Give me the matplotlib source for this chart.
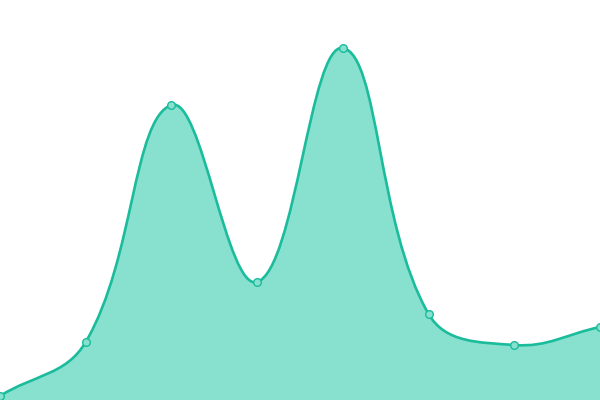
import numpy as np
import matplotlib
matplotlib.use('Agg')
import matplotlib.pyplot as plt
from matplotlib.path import Path
from matplotlib.patches import PathPatch

# datos
categorias = ['A', 'B', 'C', 'D', 'E', 'F', 'G', 'H']
valores = [4, 58, 295, 118, 352, 86, 55, 73]

COLOR_LINEA = '#1abc9c'
COLOR_RELLENO = '#88e0cf'
TENSION = 0.4


def puntos_control(pts, t):
    # curva tipo spline con tensión (estilo Chart.js)
    n = len(pts)
    cps = []
    for i in range(n):
        prev = pts[max(i - 1, 0)]
        cur = pts[i]
        nxt = pts[min(i + 1, n - 1)]
        d01 = np.hypot(*(cur - prev))
        d12 = np.hypot(*(nxt - cur))
        tot = d01 + d12
        s01 = d01 / tot if tot else 0
        s12 = d12 / tot if tot else 0
        fa = t * s01
        fb = t * s12
        cps.append((cur - fa * (nxt - prev), cur + fb * (nxt - prev)))
    return cps


fig = plt.figure(figsize=(6, 4), dpi=100)
ax = fig.add_axes([0, 0, 1, 1])
x = np.arange(len(categorias))
ax.set_xlim(0, len(categorias) - 1)
ax.set_ylim(0, 400)
ax.axis('off')

# pasar a píxeles, calcular los controles y volver a datos
pts = ax.transData.transform(np.column_stack([x, valores]))
cps = puntos_control(pts, TENSION)
verts = [pts[0]]
codes = [Path.MOVETO]
for i in range(len(pts) - 1):
    verts += [cps[i][1], cps[i + 1][0], pts[i + 1]]
    codes += [Path.CURVE4] * 3
verts = ax.transData.inverted().transform(np.array(verts))

linea = Path(verts, codes)
relleno = Path(
    np.vstack([verts, [[x[-1], 0], [x[0], 0], verts[0]]]),
    codes + [Path.LINETO, Path.LINETO, Path.CLOSEPOLY],
)
ax.add_patch(PathPatch(relleno, facecolor=COLOR_RELLENO, edgecolor='none'))
ax.add_patch(PathPatch(linea, facecolor='none', edgecolor=COLOR_LINEA,
                       lw=1.9, capstyle='round', joinstyle='round'))
ax.plot(x, valores, 'o', ms=5.5, mfc=COLOR_RELLENO, mec=COLOR_LINEA,
        mew=1, clip_on=False, zorder=5)

fig.savefig('out.png', dpi=100)
